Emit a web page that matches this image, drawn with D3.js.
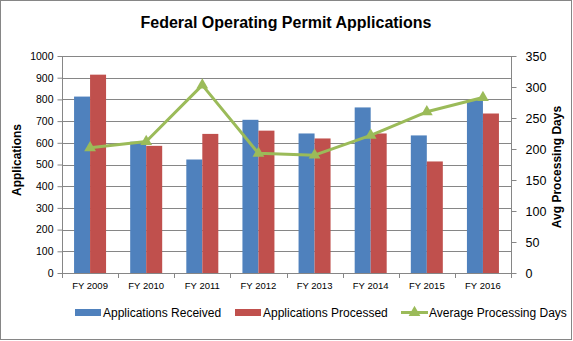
<!DOCTYPE html>
<html><head><meta charset="utf-8">
<script src="https://cdn.jsdelivr.net/npm/d3@7"></script>
<style>body{margin:0;background:#fff}svg{display:block;font-family:"Liberation Sans",Arial,sans-serif}</style>
</head><body><svg id="c" width="573" height="341"></svg>
<script>
const categories = ["FY 2009","FY 2010","FY 2011","FY 2012","FY 2013","FY 2014","FY 2015","FY 2016"];
const received = [813, 605, 523, 706, 643, 763, 634, 797];
const processed = [914, 586, 641, 656, 620, 643, 514, 735];
const avgDays = [202, 212, 303, 193, 190, 222, 260, 283];
const leftTicks = [0,100,200,300,400,500,600,700,800,900,1000];
const rightTicks = [0,50,100,150,200,250,300,350];
const seriesNames = ["Applications Received","Applications Processed","Average Processing Days"];
const colors = ["#4F81BD","#C0504D","#9BBB59"];

const svg = d3.select("#c");
const m = {l:62, r:511, t:56, b:273};
svg.append("rect").attr("x",0.5).attr("y",0.5).attr("width",571).attr("height",339)
  .attr("fill","#fff").attr("stroke","#868686");

const x = d3.scaleBand().domain(categories).range([m.l,m.r]).paddingInner(0).paddingOuter(0);
const yL = d3.scaleLinear().domain([0,1000]).range([m.b,m.t]);
const yR = d3.scaleLinear().domain([0,350]).range([m.b,m.t]);

// gridlines
svg.append("g").selectAll("line").data(leftTicks.slice(1)).join("line")
  .attr("x1",m.l).attr("x2",m.r).attr("y1",d=>Math.round(yL(d))+0.5).attr("y2",d=>Math.round(yL(d))+0.5)
  .attr("stroke","#868686").attr("stroke-width",1);

// bars
const bw = 16, gap = (x.bandwidth()-2*bw)/2;
[received, processed].forEach((vals,si)=>{
  svg.append("g").selectAll("rect").data(vals).join("rect")
    .attr("x",(d,i)=>x(categories[i])+gap+si*bw)
    .attr("width",bw)
    .attr("y",d=>yL(d)).attr("height",d=>yL(0)-yL(d))
    .attr("fill",colors[si]);
});

// axes
const axL = svg.append("g").attr("transform",`translate(${m.l+0.5},0)`)
  .call(d3.axisLeft(yL).tickValues(leftTicks).tickSize(5).tickPadding(4).tickFormat(d3.format("d")));
const axR = svg.append("g").attr("transform",`translate(${m.r+0.5},0)`)
  .call(d3.axisRight(yR).tickValues(rightTicks).tickSize(5).tickPadding(9).tickFormat(d3.format("d")));
const axB = svg.append("g").attr("transform",`translate(0,${m.b+0.5})`)
  .call(d3.axisBottom(x).tickSize(0).tickPadding(9));
// category boundary ticks
svg.append("g").selectAll("line").data(d3.range(categories.length+1)).join("line")
  .attr("x1",i=>Math.round(m.l+i*x.bandwidth())+0.5).attr("x2",i=>Math.round(m.l+i*x.bandwidth())+0.5)
  .attr("y1",m.b).attr("y2",m.b+5).attr("stroke","#868686");
[axL,axR,axB].forEach(a=>{
  a.selectAll("path").attr("stroke","#868686").attr("stroke-width",1);
  a.selectAll("line").attr("stroke","#868686");
  a.selectAll("text").attr("fill","#000").style("font-family","'Liberation Sans',Arial,sans-serif");
});
axL.selectAll("path").attr("d",`M0,${m.t}V${m.b}`);
axR.selectAll("path").attr("d",`M0,${m.t}V${m.b}`);
axB.selectAll("path").attr("d",`M${m.l},0H${m.r}`);
axL.selectAll("text").style("font-size","10.5px");
axR.selectAll("text").style("font-size","12.5px");
axB.selectAll("text").style("font-size","9.5px");

// line
const line = d3.line().x((d,i)=>x(categories[i])+x.bandwidth()/2).y(d=>yR(d));
svg.append("path").datum(avgDays).attr("d",line).attr("fill","none")
  .attr("stroke",colors[2]).attr("stroke-width",3).attr("stroke-linejoin","round");
const tri = d3.symbol().type(d3.symbolTriangle).size(60);
svg.append("g").selectAll("path").data(avgDays).join("path")
  .attr("transform",(d,i)=>`translate(${x(categories[i])+x.bandwidth()/2},${yR(d)})`)
  .attr("d",tri).attr("fill",colors[2]);

// titles
svg.append("text").attr("x",286).attr("y",28).attr("text-anchor","middle")
  .style("font-size","16px").style("font-weight","bold").text("Federal Operating Permit Applications");
svg.append("text").attr("transform","translate(21,160) rotate(-90)").attr("text-anchor","middle")
  .style("font-size","12px").style("font-weight","bold").text("Applications");
svg.append("text").attr("transform","translate(561,167) rotate(-90)").attr("text-anchor","middle")
  .style("font-size","12px").style("font-weight","bold").text("Avg Processing Days");

// legend
const lg = svg.append("g");
const lx = [75,235,401];
seriesNames.forEach((n,i)=>{
  if(i<2){
    lg.append("rect").attr("x",lx[i]).attr("y",309).attr("width",26).attr("height",7).attr("fill",colors[i]);
  } else {
    lg.append("line").attr("x1",lx[i]).attr("x2",lx[i]+27).attr("y1",312.5).attr("y2",312.5)
      .attr("stroke",colors[2]).attr("stroke-width",3);
    lg.append("path").attr("transform",`translate(${lx[i]+13.5},312.5)`).attr("d",tri).attr("fill",colors[2]);
  }
  lg.append("text").attr("x",lx[i]+28).attr("y",317).style("font-size","12px").text(n);
});
</script></body></html>
